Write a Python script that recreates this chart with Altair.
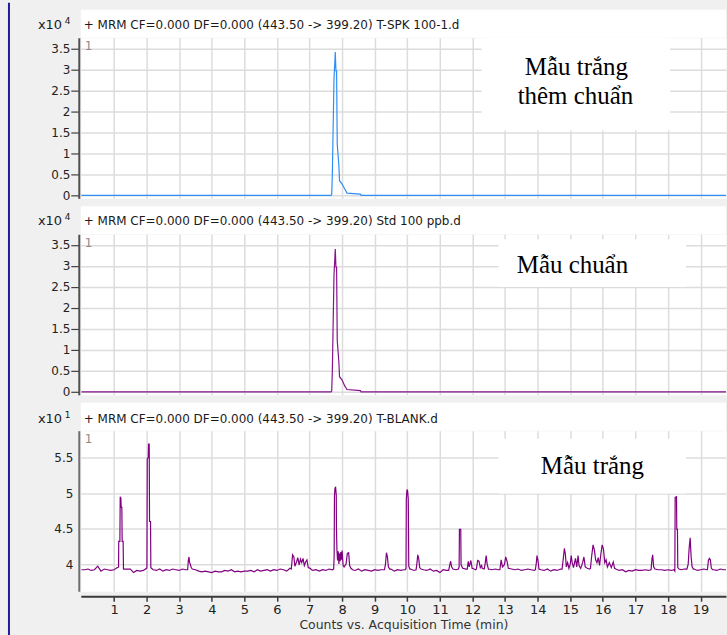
import altair as alt
import pandas as pd

# ---------------------------------------------------------------
# MRM 443.50 -> 399.20 chromatograms, response vs. time (min)
# ---------------------------------------------------------------

# Spiked blank (x10^4 counts)
spk_time = [0.0, 7.66, 7.68, 7.70, 7.75, 7.79, 7.81, 7.83, 7.85, 7.90, 7.92,
            8.00, 8.08, 8.15, 8.56, 8.58, 19.78]
spk_resp = [0.0, 0.0, 0.02, 0.50, 2.77, 3.42, 2.97, 2.97, 1.22, 0.71, 0.35,
            0.27, 0.15, 0.055, 0.03, 0.0, 0.0]

# 100 ppb standard (x10^4 counts)
std_time = [0.0, 7.66, 7.68, 7.70, 7.75, 7.79, 7.81, 7.83, 7.85, 7.90, 7.92,
            8.00, 8.08, 8.15, 8.56, 8.58, 19.78]
std_resp = [0.0, 0.0, 0.02, 0.50, 2.77, 3.40, 2.97, 2.97, 1.23, 0.71, 0.36,
            0.28, 0.14, 0.055, 0.03, 0.0, 0.0]

# Blank (x10^1 counts): baseline sampled every 0.1 min ...
blank_time = [round(i * 0.1, 1) for i in range(199)]
blank_base = [
    3.92, 3.92, 3.93, 3.91, 3.92, 3.97, 3.90, 3.93, 3.92, 3.91,
    3.92, 3.95, 3.93, 3.93, 3.93, 3.93, 3.88, 3.91, 3.90, 3.91,
    3.91, 3.94, 3.92, 3.91, 3.93, 3.90, 3.92, 3.91, 3.93, 3.92,
    3.91, 3.93, 3.92, 3.94, 3.95, 3.92, 3.90, 3.89, 3.90, 3.89,
    3.88, 3.90, 3.89, 3.89, 3.91, 3.90, 3.92, 3.89, 3.90, 3.89,
    3.90, 3.90, 3.91, 3.89, 3.92, 3.90, 3.91, 3.92, 3.90, 3.92,
    3.91, 3.93, 3.92, 3.90, 3.94, 3.93, 3.92, 3.92, 3.92, 3.92,
    3.93, 3.91, 3.92, 3.90, 3.92, 3.91, 3.93, 3.92, 3.92, 3.92,
    3.92, 3.92, 3.92, 3.92, 3.91, 3.93, 3.90, 3.92, 3.91, 3.90,
    3.92, 3.91, 3.92, 3.92, 3.92, 3.93, 3.90, 3.92, 3.91, 3.92,
    3.92, 3.93, 3.91, 3.92, 3.92, 3.92, 3.91, 3.93, 3.90, 3.91,
    3.88, 3.92, 3.91, 3.92, 3.92, 3.92, 3.92, 3.92, 3.93, 3.92,
    3.94, 3.92, 3.92, 3.94, 3.92, 3.93, 3.92, 3.93, 3.92, 3.92,
    3.92, 3.92, 3.93, 3.92, 3.93, 3.91, 3.92, 3.93, 3.92, 3.91,
    3.92, 3.92, 3.91, 3.93, 3.90, 3.92, 3.91, 3.93, 3.92, 3.92,
    3.92, 3.92, 3.92, 3.92, 3.92, 3.92, 3.93, 3.92, 3.92, 3.92,
    3.92, 3.92, 3.92, 3.92, 3.93, 3.91, 3.92, 3.89, 3.91, 3.90,
    3.92, 3.91, 3.91, 3.92, 3.91, 3.92, 3.92, 3.92, 3.92, 3.91,
    3.92, 3.91, 3.92, 3.92, 3.92, 3.93, 3.92, 3.92, 3.93, 3.91,
    3.92, 3.93, 3.92, 3.92, 3.92, 3.91, 3.93, 3.92, 3.92,
]

# ... and the peaks, each as (time, response) pairs
blank_peaks = [
    [(1.11, 3.95), (1.14, 3.96), (1.145, 4.32), (1.18, 4.32), (1.19, 4.95), (1.21, 4.93),
     (1.22, 4.80), (1.24, 4.80), (1.25, 4.32), (1.28, 4.32), (1.29, 3.93)],
    [(2.00, 3.94), (2.01, 3.96), (2.02, 5.48), (2.05, 5.50), (2.06, 5.69), (2.08, 5.69),
     (2.09, 4.60), (2.12, 4.60), (2.13, 3.95)],
    [(3.26, 3.92), (3.28, 4.05), (3.30, 4.10), (3.32, 4.02), (3.34, 4.00), (3.37, 3.95),
     (3.40, 3.93)],
    [(6.44, 3.93), (6.48, 4.13), (6.52, 4.10), (6.55, 3.97), (6.60, 4.03), (6.64, 4.09),
     (6.68, 3.99), (6.72, 4.07), (6.76, 4.02), (6.80, 4.08), (6.84, 3.98), (6.88, 4.03),
     (6.92, 4.06), (6.96, 3.95), (7.02, 3.94), (7.06, 3.92)],
    [(7.70, 3.92), (7.74, 3.93), (7.755, 4.10), (7.765, 4.96), (7.78, 5.07), (7.80, 5.08),
     (7.82, 4.97), (7.825, 4.54), (7.84, 4.20), (7.86, 4.05), (7.88, 4.18), (7.90, 4.00),
     (7.92, 4.15), (7.94, 4.04), (7.96, 4.17), (7.98, 4.06), (8.00, 4.19), (8.03, 3.98),
     (8.06, 3.96), (8.12, 4.00), (8.16, 4.15), (8.20, 4.16), (8.23, 3.98), (8.27, 3.94),
     (8.32, 3.92)],
    [(9.30, 3.92), (9.33, 4.00), (9.36, 4.16), (9.39, 4.10), (9.42, 3.96), (9.46, 3.93)],
    [(9.94, 3.92), (9.96, 3.94), (9.97, 4.92), (9.99, 5.05), (10.01, 5.03), (10.03, 4.91),
     (10.045, 3.97), (10.08, 3.93)],
    [(10.27, 3.92), (10.30, 4.03), (10.32, 4.13), (10.35, 4.08), (10.38, 3.95), (10.42, 3.93)],
    [(11.27, 3.91), (11.30, 3.98), (11.33, 4.04), (11.36, 3.96), (11.40, 3.93)],
    [(11.57, 3.93), (11.59, 3.96), (11.60, 4.49), (11.64, 4.49), (11.65, 3.99), (11.70, 3.94)],
    [(11.84, 3.93), (11.87, 4.04), (11.90, 3.96), (11.95, 4.05), (11.99, 3.94)],
    [(12.12, 3.93), (12.16, 4.05), (12.20, 4.04), (12.24, 3.95), (12.28, 3.98)],
    [(12.36, 3.93), (12.39, 4.01), (12.42, 4.12), (12.45, 4.00), (12.49, 3.93)],
    [(12.84, 3.92), (12.88, 4.06), (12.92, 3.96), (12.98, 3.99), (13.02, 4.10), (13.06, 4.04),
     (13.10, 3.94)],
    [(13.93, 3.92), (13.96, 4.02), (13.98, 4.12), (14.01, 4.05), (14.04, 3.93)],
    [(14.75, 3.93), (14.78, 4.05), (14.82, 4.22), (14.85, 4.14), (14.88, 3.96), (14.92, 4.02),
     (14.96, 3.94), (15.00, 4.00), (15.03, 4.12), (15.06, 4.02), (15.10, 3.95), (15.16, 4.08),
     (15.20, 3.96), (15.24, 4.12), (15.27, 3.98), (15.32, 3.94), (15.38, 4.02), (15.42, 4.10),
     (15.46, 3.96), (15.52, 3.94)],
    [(15.62, 3.94), (15.66, 4.12), (15.70, 4.27), (15.74, 4.20), (15.78, 4.06), (15.82, 4.02),
     (15.86, 4.09), (15.90, 3.98), (15.94, 4.14), (15.98, 4.27), (16.02, 4.21), (16.06, 4.02),
     (16.10, 4.06), (16.14, 3.96), (16.20, 4.02), (16.26, 3.95), (16.32, 4.03), (16.36, 3.94)],
    [(17.48, 3.92), (17.51, 4.08), (17.53, 4.13), (17.56, 3.96), (17.60, 3.93)],
    [(18.18, 3.92), (18.21, 3.90), (18.22, 4.94), (18.26, 4.95), (18.27, 4.49), (18.29, 4.49),
     (18.30, 3.95), (18.34, 3.93)],
    [(18.58, 3.93), (18.62, 4.00), (18.65, 4.23), (18.68, 4.37), (18.71, 4.10), (18.74, 3.96),
     (18.78, 3.93)],
    [(19.21, 3.92), (19.24, 4.05), (19.27, 4.08), (19.30, 4.06), (19.33, 3.94), (19.37, 3.92)],
]

x_ticks = list(range(1, 20))
big_ticks = [0, 0.5, 1, 1.5, 2, 2.5, 3, 3.5]
blank_ticks = [4, 4.5, 5, 5.5]

headers = [
    "+ MRM CF=0.000 DF=0.000 (443.50 -> 399.20) T-SPK 100-1.d",
    "+ MRM CF=0.000 DF=0.000 (443.50 -> 399.20) Std 100 ppb.d",
    "+ MRM CF=0.000 DF=0.000 (443.50 -> 399.20) T-BLANK.d",
]

# ---------------------------------------------------------------
W, H = 647, 161
X_DOM = [-0.02, 19.78]
GRID = "#dcdcdc"
SANS = "DejaVu Sans"
SERIF = "Liberation Serif"

# merge the blank baseline with its peaks
blank_pts = [p for seg in blank_peaks for p in seg]
spans = [(seg[0][0], seg[-1][0]) for seg in blank_peaks]
for t, v in zip(blank_time, blank_base):
    if not any(lo <= t <= hi for lo, hi in spans):
        blank_pts.append((t, v))
blank_pts.sort()
blank_df = pd.DataFrame(blank_pts, columns=["t", "v"])
spk_df = pd.DataFrame({"t": spk_time, "v": spk_resp})
std_df = pd.DataFrame({"t": std_time, "v": std_resp})

one = pd.DataFrame({"k": [0]})


def txt(x, y, s, size=12, color="#1a1a1a", font=SANS, align="left"):
    return alt.Chart(one).mark_text(
        font=font, fontSize=size, color=color, align=align, baseline="alphabetic"
    ).encode(x=alt.value(x), y=alt.value(y), text=alt.value(s))


def box(x0, x1, y0, y1):
    return alt.Chart(one).mark_rect(color="white").encode(
        x=alt.value(x0), x2=alt.value(x1), y=alt.value(y0), y2=alt.value(y1)
    )


def panel(df, color, ydom, yticks, exponent, header, notes, note_box, bottom, hy=-8.5):
    if bottom:
        xaxis = alt.Axis(values=x_ticks, grid=True, gridColor=GRID, gridWidth=1.5,
                         domainColor="#3a3a3a", domainWidth=2, offset=5,
                         tickColor="#3a3a3a", tickSize=5, tickWidth=1.5,
                         labelFont=SANS, labelFontSize=13, labelColor="#222",
                         labelPadding=2,
                         title="Counts vs. Acquisition Time (min)",
                         titleFont=SANS, titleFontSize=12.5, titleFontWeight="normal",
                         titleColor="#333", titlePadding=2)
        yaxis = alt.Axis(values=yticks, grid=True, gridColor=GRID, gridWidth=1.5,
                         domainColor="#6e6e6e", domainWidth=2, offset=2,
                         ticks=False, tickSize=0, labelPadding=6, format="~g",
                         labelFont=SANS, labelFontSize=12, labelColor="#222")
    else:
        xaxis = alt.Axis(values=x_ticks, grid=True, gridColor=GRID, gridWidth=1.5,
                         labels=False, ticks=False, domain=False)
        yaxis = alt.Axis(values=yticks, grid=True, gridColor=GRID, gridWidth=1.5,
                         domainColor="#505050", domainWidth=2, offset=2,
                         tickColor="#404040", tickSize=8, tickWidth=1.2,
                         labelPadding=1, format="~g",
                         labelFont=SANS, labelFontSize=12, labelColor="#222")

    trace = alt.Chart(df).mark_line(color=color, strokeWidth=1.2, clip=True).encode(
        x=alt.X("t:Q", scale=alt.Scale(domain=X_DOM, nice=False, zero=False),
                axis=xaxis, title=None if not bottom else "Counts vs. Acquisition Time (min)"),
        y=alt.Y("v:Q", scale=alt.Scale(domain=ydom, nice=False, zero=False),
                axis=yaxis, title=None),
    )

    layers = [
        trace,
        box(0, W, -28, 0),
        box(*note_box),
    ]
    for s, x, y in notes:
        layers.append(txt(x, y, s, size=25, color="#000", font=SERIF, align="center"))
    layers += [
        txt(3, hy, header, size=12),
        txt(-43, hy, "x10", size=13),
        txt(-16, hy - 5, exponent, size=9),
        txt(4, 12.5, "1", size=12, color="#8c8c8c"),
    ]
    return alt.layer(*layers).properties(width=W, height=H)


p1 = panel(spk_df, "#2f8ff5", [-0.071, 3.762], big_ticks, "4", headers[0],
           [("Mẫu trắng", 497, 37), ("thêm chuẩn", 496, 66.5)],
           (402, 591, 0, 93), bottom=False)

# window edge rule running the full height on the left
edge = alt.Chart(one).mark_rule(color="#1c1c9c", strokeWidth=2).encode(
    x=alt.value(-72), y=alt.value(-35), y2=alt.value(600)
)
p1 = alt.layer(p1, edge)

p2 = panel(std_df, "#86138c", [-0.071, 3.754], big_ticks, "4", headers[1],
           [("Mẫu chuẩn", 493, 39)],
           (419, 607, 5, 53), bottom=False, hy=-9)

p3 = panel(blank_df, "#800080", [3.617, 5.879], blank_ticks, "1", headers[2],
           [("Mẫu trắng", 513, 43)],
           (419, 607, 8, 63), bottom=True, hy=-8)

chart = alt.vconcat(p1, p2, p3, spacing=36, bounds="flush").properties(
    background="#f0f0f0",
    padding={"left": 7, "top": 0, "right": 0, "bottom": 0},
).configure_view(fill="white", stroke="transparent")

chart.save("out.html", embed_options={"renderer": "svg", "actions": False})
